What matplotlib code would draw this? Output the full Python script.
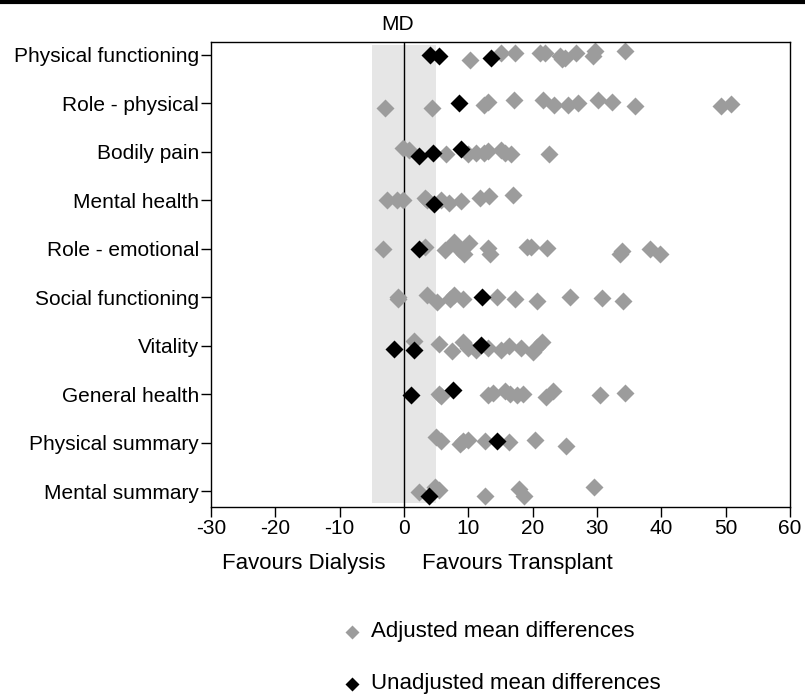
import numpy as np
import matplotlib.pyplot as plt
from matplotlib.lines import Line2D

plt.rcParams['font.family'] = ['Liberation Sans', 'DejaVu Sans']

domains = ["Physical functioning", "Role - physical", "Bodily pain", "Mental health",
           "Role - emotional", "Social functioning", "Vitality", "General health",
           "Physical summary", "Mental summary"]

# adjusted mean differences (grey), with small vertical jitter
adj_x = [
    [10.3, 15.0, 17.2, 21.2, 21.9, 24.3, 24.6, 25.0, 26.7, 29.4, 29.7, 34.4],
    [-2.9, 4.35, 12.4, 13.0, 17.1, 21.6, 23.3, 25.5, 27.0, 30.2, 32.4, 35.9, 49.3, 50.8],
    [-0.2, 0.8, 6.6, 10.0, 11.2, 12.4, 13.0, 15.1, 15.7, 16.6, 22.5],
    [-2.6, -1.1, -0.1, 3.2, 3.6, 5.8, 7.0, 8.8, 11.8, 13.2, 17.0],
    [-3.3, 3.2, 6.3, 7.8, 8.5, 9.4, 10.1, 13.0, 13.4, 19.1, 19.7, 22.2, 33.6, 33.9, 38.3, 39.8],
    [-1.0, -1.0, 3.5, 5.2, 7.2, 7.8, 9.1, 14.4, 17.3, 20.7, 25.8, 30.7, 34.1],
    [1.5, 5.4, 7.4, 9.1, 10.0, 11.2, 13.0, 15.1, 16.3, 18.2, 20.1, 20.7, 21.5],
    [5.4, 5.7, 13.0, 13.9, 15.7, 16.4, 17.5, 18.5, 22.1, 23.1, 30.4, 34.3],
    [4.9, 5.8, 8.7, 9.1, 10.0, 12.6, 16.3, 20.3, 25.2],
    [2.4, 4.8, 5.4, 12.6, 17.8, 18.7, 29.6],
]
adj_dy = [
    [0.10, -0.05, -0.05, -0.05, -0.05, 0.02, 0.09, 0.06, -0.05, 0.03, -0.09, -0.09],
    [0.09, 0.09, 0.03, -0.03, -0.07, -0.07, 0.03, 0.03, -0.01, -0.07, -0.03, 0.05, 0.05, 0.01],
    [-0.09, -0.05, 0.05, 0.05, 0.02, 0.02, -0.02, -0.05, 0.03, 0.05, 0.05],
    [-0.02, -0.02, 0.0, -0.06, 0.0, -0.02, 0.06, 0.01, -0.06, -0.09, -0.12],
    [0.0, -0.05, 0.03, -0.14, 0.0, 0.1, -0.12, -0.03, 0.1, -0.05, -0.05, -0.03, 0.1, 0.05, 0.01, 0.1],
    [-0.02, 0.04, -0.05, 0.1, 0.03, -0.05, 0.03, 0.0, 0.03, 0.07, -0.02, 0.02, 0.07],
    [-0.11, -0.04, 0.1, -0.09, 0.05, 0.08, 0.05, 0.08, 0.01, 0.05, 0.12, 0.03, -0.09],
    [-0.01, 0.04, 0.02, -0.03, -0.08, 0.0, 0.02, 0.0, 0.05, -0.08, 0.02, -0.03],
    [-0.12, -0.05, 0.02, -0.05, -0.07, -0.05, -0.03, -0.07, 0.07],
    [0.01, -0.1, -0.03, 0.1, -0.05, 0.09, -0.09],
]

# unadjusted mean differences (black)
unadj_x = [
    [4.05, 5.4, 13.6],
    [8.6],
    [2.3, 4.5, 8.8],
    [4.6],
    [2.4],
    [12.1],
    [-1.5, 1.5, 12.0],
    [1.1, 7.6],
    [14.5],
    [3.9],
]
unadj_dy = [
    [0.0, 0.03, 0.06],
    [0.0],
    [0.09, 0.02, -0.07],
    [0.08],
    [0.01],
    [-0.02],
    [0.06, 0.08, -0.02],
    [0.02, -0.1],
    [-0.05],
    [0.1],
]

xticks = [-30, -20, -10, 0, 10, 20, 30, 40, 50, 60]
legend_labels = ["Adjusted mean differences", "Unadjusted mean differences"]

W, H = 805, 695
fig = plt.figure(figsize=(W / 100, H / 100), dpi=100)
ax = fig.add_axes([211 / W, 1 - 507 / H, 579 / W, 465.3 / H])

y_top, y_bot = 0.726, 10.32
rows = np.arange(1, len(domains) + 1)
ax.axvspan(-5, 5, ymin=(y_bot - 10.23) / (y_bot - y_top), ymax=1 - (0.794 - y_top) / (y_bot - y_top),
           color='#e6e6e6', lw=0, zorder=0)
ax.axvline(0, color='black', lw=1.0, zorder=1)

grey = '#9c9c9c'
for i in range(len(domains)):
    ax.plot(adj_x[i], rows[i] + np.array(adj_dy[i]), 'D', color=grey, ms=9.5,
            mec='none', zorder=2)
for i in range(len(domains)):
    ax.plot(unadj_x[i], rows[i] + np.array(unadj_dy[i]), 'D', color='black', ms=9.5,
            mec='none', zorder=3)

ax.set_xlim(-30, 60)
ax.set_ylim(y_bot, y_top)
ax.set_xticks(xticks)
ax.set_xticklabels([str(t) for t in xticks], fontsize=15)
ax.set_yticks(rows)
ax.set_yticklabels(domains, fontsize=15)
ax.tick_params(direction='out', length=7, width=1.0, pad=1.5)
for s in ax.spines.values():
    s.set_linewidth(1.0)

ax.text(-1, 0.38, "MD", ha='center', va='center', fontsize=15)

fig.text(304 / W, 1 - 563 / H, "Favours Dialysis", ha='center', va='center', fontsize=16)
fig.text(517 / W, 1 - 563 / H, "Favours Transplant", ha='center', va='center', fontsize=16)

# black rule at the very top
fig.add_artist(Line2D([0, 1], [1 - 1.5 / H, 1 - 1.5 / H], color='black', lw=3,
                      transform=fig.transFigure))

# legend drawn in figure pixels
for ypix, col, lab in zip([632, 684], [grey, 'black'], legend_labels):
    fig.add_artist(Line2D([352 / W], [1 - ypix / H], ls='none', marker='D', color=col,
                          ms=7, mec='none', transform=fig.transFigure))
    fig.text(371 / W, 1 - ypix / H, lab, ha='left', va='center', fontsize=16)

fig.savefig('out.png', dpi=100)
